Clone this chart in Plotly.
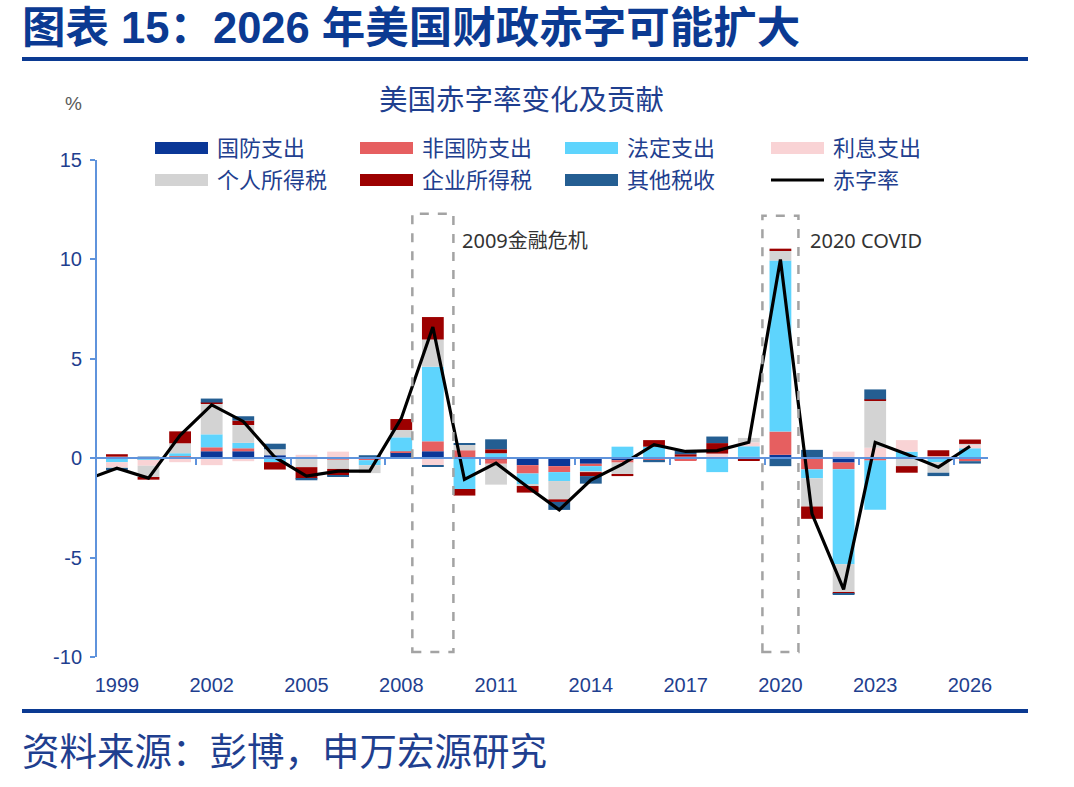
import plotly.graph_objects as go

# ---------------- data ----------------
years = list(range(1999, 2027))
tick_years = [1999, 2002, 2005, 2008, 2011, 2014, 2017, 2020, 2023, 2026]
tick_labels = [str(y) for y in tick_years]
minor_tick_positions = [2001.5, 2004.5, 2007.5, 2010.5, 2013.5, 2016.5, 2019.5, 2022.5, 2025.5]
y_tick_values = [-10, -5, 0, 5, 10, 15]
y_tick_labels = ["-10", "-5", "0", "5", "10", "15"]

series_names = ["国防支出", "非国防支出", "法定支出", "利息支出", "个人所得税", "企业所得税", "其他税收"]
line_name = "赤字率"

defense = [0.0, -0.02, 0.05, 0.35, 0.35, 0.15, 0.0, 0.0, 0.05, 0.30, 0.35, 0.0, -0.05, -0.35,
           -0.40, -0.28, -0.10, 0.0, -0.08, 0.03, 0.07, 0.17, -0.03, -0.22, 0.0, 0.0, 0.0, -0.07]
nondefense = [0.08, -0.03, 0.05, 0.20, 0.15, 0.0, 0.05, -0.07, -0.10, 0.05, 0.50, 0.40, -0.23, -0.42,
              -0.30, -0.12, -0.12, -0.10, -0.05, 0.0, -0.07, 1.17, -0.53, -0.33, -0.12, 0.0, 0.0, -0.08]
mandatory = [-0.20, -0.03, 0.15, 0.65, 0.27, -0.20, 0.0, 0.0, -0.25, 0.70, 3.75, -1.55, 0.25, -0.55,
             -0.45, -0.27, 0.58, 0.58, 0.03, -0.70, 0.53, 8.60, -0.45, -4.78, -2.47, 0.33, -0.20, 0.50]
interest = [-0.27, -0.30, -0.20, -0.35, -0.15, 0.0, 0.12, 0.33, 0.0, 0.0, -0.35, 0.0, 0.0, 0.0,
            0.0, 0.0, 0.0, 0.0, 0.05, 0.20, 0.20, 0.0, 0.0, 0.33, 0.53, 0.58, 0.10, 0.17]
personal_tax = [-0.03, -0.60, 0.50, 1.55, 0.90, 0.30, -0.45, -0.47, -0.40, 0.37, 1.37, 0.28, -1.05, -0.08,
                -0.92, -0.03, -0.58, 0.0, 0.0, 0.0, 0.22, 0.50, -1.42, -1.43, 2.35, -0.40, -0.53, 0.05]
corporate_tax = [0.12, -0.10, 0.60, 0.05, 0.22, -0.37, -0.58, -0.33, 0.0, 0.55, 1.13, -0.33, 0.20, -0.33,
                 -0.13, -0.20, -0.10, 0.33, 0.12, 0.53, -0.05, 0.10, -0.62, -0.05, 0.08, -0.33, 0.30, 0.22]
other_tax = [-0.10, 0.08, 0.0, 0.20, 0.22, 0.28, -0.08, -0.07, 0.10, 0.0, -0.05, 0.07, 0.50, 0.0,
             -0.40, -0.38, 0.0, -0.10, 0.20, 0.33, 0.0, -0.40, 0.42, -0.05, 0.50, 0.0, -0.17, -0.12]

line_years = [1998] + years
deficit_change = [-1.1, -0.5, -1.0, 1.15, 2.68, 1.85, 0.05, -0.9, -0.65, -0.65, 2.0, 6.6, -1.07, -0.25,
                  -1.45, -2.6, -1.1, -0.3, 0.68, 0.34, 0.38, 0.8, 10.0, -2.8, -6.6, 0.8, 0.2, -0.45, 0.6]

crises = [
    {"year": 2009, "half": 0.65, "top": 12.3, "label": "2009金融危机"},
    {"year": 2020, "half": 0.57, "top": 12.2, "label": "2020 COVID"},
]

title_text = "图表 15：2026 年美国财政赤字可能扩大"
subtitle_text = "美国赤字率变化及贡献"
source_text = "资料来源：彭博，申万宏源研究"

# ---------------- style ----------------
colors = ["#0A3797", "#E65F60", "#5ED4FD", "#F9D3D5", "#D3D3D3", "#9C0000", "#245E92"]
NAVY = "#0B3A92"
TEXT_BLUE = "#1F3F8F"
AXIS_BLUE = "#5F93DC"
CJK = "Liberation Sans, Noto Sans CJK SC, sans-serif"

W, H = 1074, 787
L, R, T, B = 97, 988, 160, 657


def px(x):
    return (x - L) / (R - L)


def py(y):
    return (B - y) / (B - T)


fig = go.Figure()
series_values = [defense, nondefense, mandatory, interest, personal_tax, corporate_tax, other_tax]
for name, vals, col in zip(series_names, series_values, colors):
    fig.add_trace(go.Bar(x=years, y=vals, name=name, marker=dict(color=col, line=dict(width=0)),
                         width=0.69, showlegend=False))

fig.add_trace(go.Scatter(x=line_years, y=deficit_change, name=line_name, mode="lines",
                         line=dict(color="black", width=3.2), xaxis="x2", showlegend=False))

xr = [1998.37, 2026.57]
fig.update_layout(
    width=W, height=H, autosize=False,
    margin=dict(l=L, r=W - R, t=T, b=H - B),
    paper_bgcolor="white", plot_bgcolor="white",
    barmode="relative", bargap=0.3,
    font=dict(family=CJK, color=TEXT_BLUE),
    xaxis=dict(range=xr, tickvals=tick_years, ticktext=tick_labels, showgrid=False, zeroline=False,
               showline=False, ticks="", ticklabelstandoff=14,
               tickfont=dict(size=20, color=TEXT_BLUE, family="Liberation Sans")),
    xaxis2=dict(range=xr, overlaying="x", anchor="free", position=0.4, side="bottom",
                showline=True, linecolor=AXIS_BLUE, linewidth=2, ticks="outside", ticklen=6,
                tickwidth=2, tickcolor=AXIS_BLUE, tickvals=minor_tick_positions,
                showticklabels=False, showgrid=False, zeroline=False),
    yaxis=dict(range=[-10, 15], tickvals=y_tick_values, ticktext=y_tick_labels, showgrid=False,
               zeroline=False, showline=True, linecolor=AXIS_BLUE, linewidth=2, ticks="outside",
               ticklen=5, tickwidth=2, tickcolor=AXIS_BLUE, ticklabelstandoff=4,
               tickfont=dict(size=20, color=TEXT_BLUE, family="Liberation Sans")),
)

shapes = []
annotations = []

# crisis boxes
for c in crises:
    shapes.append(dict(type="rect", xref="x", yref="y", x0=c["year"] - c["half"], x1=c["year"] + c["half"],
                       y0=-9.75, y1=c["top"], line=dict(color="#A3A3A3", width=2.5, dash="dash"),
                       fillcolor="rgba(0,0,0,0)", layer="above"))
    annotations.append(dict(xref="x", yref="y", x=c["year"] + 0.86, y=10.95, text=c["label"],
                            showarrow=False, xanchor="left", yanchor="middle",
                            font=dict(size=20, color="#333333", family="Noto Sans, Noto Sans CJK SC")))

# header / footer rules
for yy in (59, 711):
    shapes.append(dict(type="line", xref="paper", yref="paper", x0=px(22), x1=px(1028), y0=py(yy), y1=py(yy),
                       line=dict(color=NAVY, width=4)))

annotations.append(dict(xref="paper", yref="paper", x=px(20), y=py(28), text="<b>" + title_text + "</b>",
                        showarrow=False, xanchor="left", yanchor="middle",
                        font=dict(size=43.5, color=NAVY, family=CJK)))
annotations.append(dict(xref="paper", yref="paper", x=px(521), y=py(100), text=subtitle_text,
                        showarrow=False, xanchor="center", yanchor="middle",
                        font=dict(size=28.5, color=TEXT_BLUE, family=CJK)))
annotations.append(dict(xref="paper", yref="paper", x=px(73), y=py(104), text="%",
                        showarrow=False, xanchor="center", yanchor="middle",
                        font=dict(size=19, color="#595959", family="Liberation Sans")))
annotations.append(dict(xref="paper", yref="paper", x=px(20), y=py(752), text=source_text,
                        showarrow=False, xanchor="left", yanchor="middle",
                        font=dict(size=37.5, color=TEXT_BLUE, family=CJK)))

# manual legend (4 columns x 2 rows)
legend_names = series_names + [line_name]
col_x = [155, 360, 565, 771]
row_y = [148, 180]
for i, name in enumerate(legend_names):
    cx = col_x[i % 4]
    ry = row_y[i // 4]
    if i < len(colors):
        shapes.append(dict(type="rect", xref="paper", yref="paper", x0=px(cx), x1=px(cx + 53),
                           y0=py(ry + 6), y1=py(ry - 6), fillcolor=colors[i], line=dict(width=0)))
    else:
        shapes.append(dict(type="line", xref="paper", yref="paper", x0=px(cx), x1=px(cx + 53),
                           y0=py(ry), y1=py(ry), line=dict(color="black", width=3)))
    annotations.append(dict(xref="paper", yref="paper", x=px(cx + 60), y=py(ry), text=name,
                            showarrow=False, xanchor="left", yanchor="middle",
                            font=dict(size=22, color=TEXT_BLUE, family=CJK)))

fig.update_layout(shapes=shapes, annotations=annotations)
fig.write_html("out.html")
